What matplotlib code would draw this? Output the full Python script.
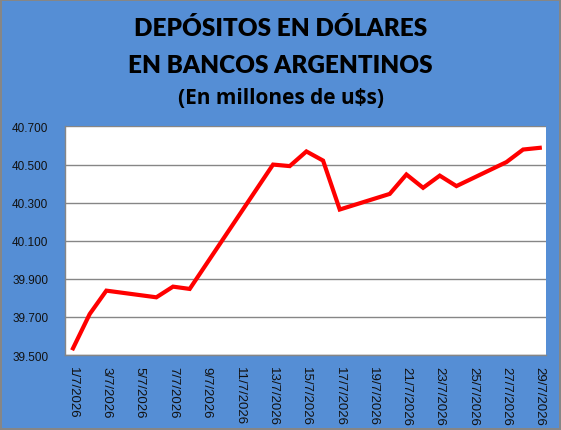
import matplotlib
matplotlib.use("Agg")
import matplotlib.pyplot as plt
import matplotlib.ticker as mticker
import pandas as pd

# depositos (millones de u$s), solo dias habiles
fechas = ["2026-07-01", "2026-07-02", "2026-07-03", "2026-07-06", "2026-07-07",
          "2026-07-08", "2026-07-13", "2026-07-14", "2026-07-15", "2026-07-16",
          "2026-07-17", "2026-07-20", "2026-07-21", "2026-07-22", "2026-07-23",
          "2026-07-24", "2026-07-27", "2026-07-28", "2026-07-29"]
depositos = [39535, 39715, 39838, 39803, 39859,
             39847, 40500, 40492, 40569, 40521,
             40264, 40346, 40448, 40378, 40442,
             40387, 40513, 40579, 40588]
y_ticks = [39500, 39700, 39900, 40100, 40300, 40500, 40700]

fechas = pd.to_datetime(fechas)
azul = "#558ED5"
gris = "#868686"

fig = plt.figure(figsize=(5.61, 4.31), dpi=100, facecolor=azul,
                 edgecolor=gris, linewidth=1.5)
ax = fig.add_axes([0.1159, 0.174, 0.8574, 0.5302])
ax.set_facecolor("white")

ax.plot(fechas, depositos, color="red", linewidth=3, solid_joinstyle="miter")

ax.set_ylim(39500, 40700)
ax.set_yticks(y_ticks)
ax.yaxis.set_major_formatter(mticker.FuncFormatter(lambda v, p: f"{int(v):,}".replace(",", ".")))
ax.grid(axis="y", color=gris, linewidth=1)
ax.set_axisbelow(True)

inicio = pd.Timestamp("2026-07-01")
ax.set_xlim(inicio - pd.Timedelta(hours=11.5), inicio + pd.Timedelta(days=28, hours=9))
ticks = pd.date_range("2026-07-01", "2026-07-29", freq="2D")
ax.set_xticks(ticks)
ax.set_xticklabels([f"{d.day}/{d.month}/{d.year}" for d in ticks], rotation=270,
                   fontsize=9.5, family="Liberation Sans", color="#111111")
for lab in ax.get_yticklabels():
    lab.set_family("Liberation Sans")
    lab.set_fontsize(8.5)
    lab.set_color("#111111")
ax.tick_params(axis="both", length=0)
ax.tick_params(axis="y", pad=12)
ax.tick_params(axis="x", pad=8)

for s in ["top", "right"]:
    ax.spines[s].set_visible(False)
for s in ["left", "bottom"]:
    ax.spines[s].set_color(gris)
    ax.spines[s].set_linewidth(1)

fig.text(0.5, 0.933, "DEPÓSITOS EN DÓLARES", ha="center", va="center",
         fontsize=17.5, fontweight="heavy", family="Lato")
fig.text(0.5, 0.847, "EN BANCOS ARGENTINOS", ha="center", va="center",
         fontsize=17.5, fontweight="heavy", family="Lato")
fig.text(0.5, 0.772, "(En millones de u$s)", ha="center", va="center",
         fontsize=15, fontweight="bold", family="Open Sans")

fig.savefig("out.png", dpi=100, facecolor=azul, edgecolor=gris)
